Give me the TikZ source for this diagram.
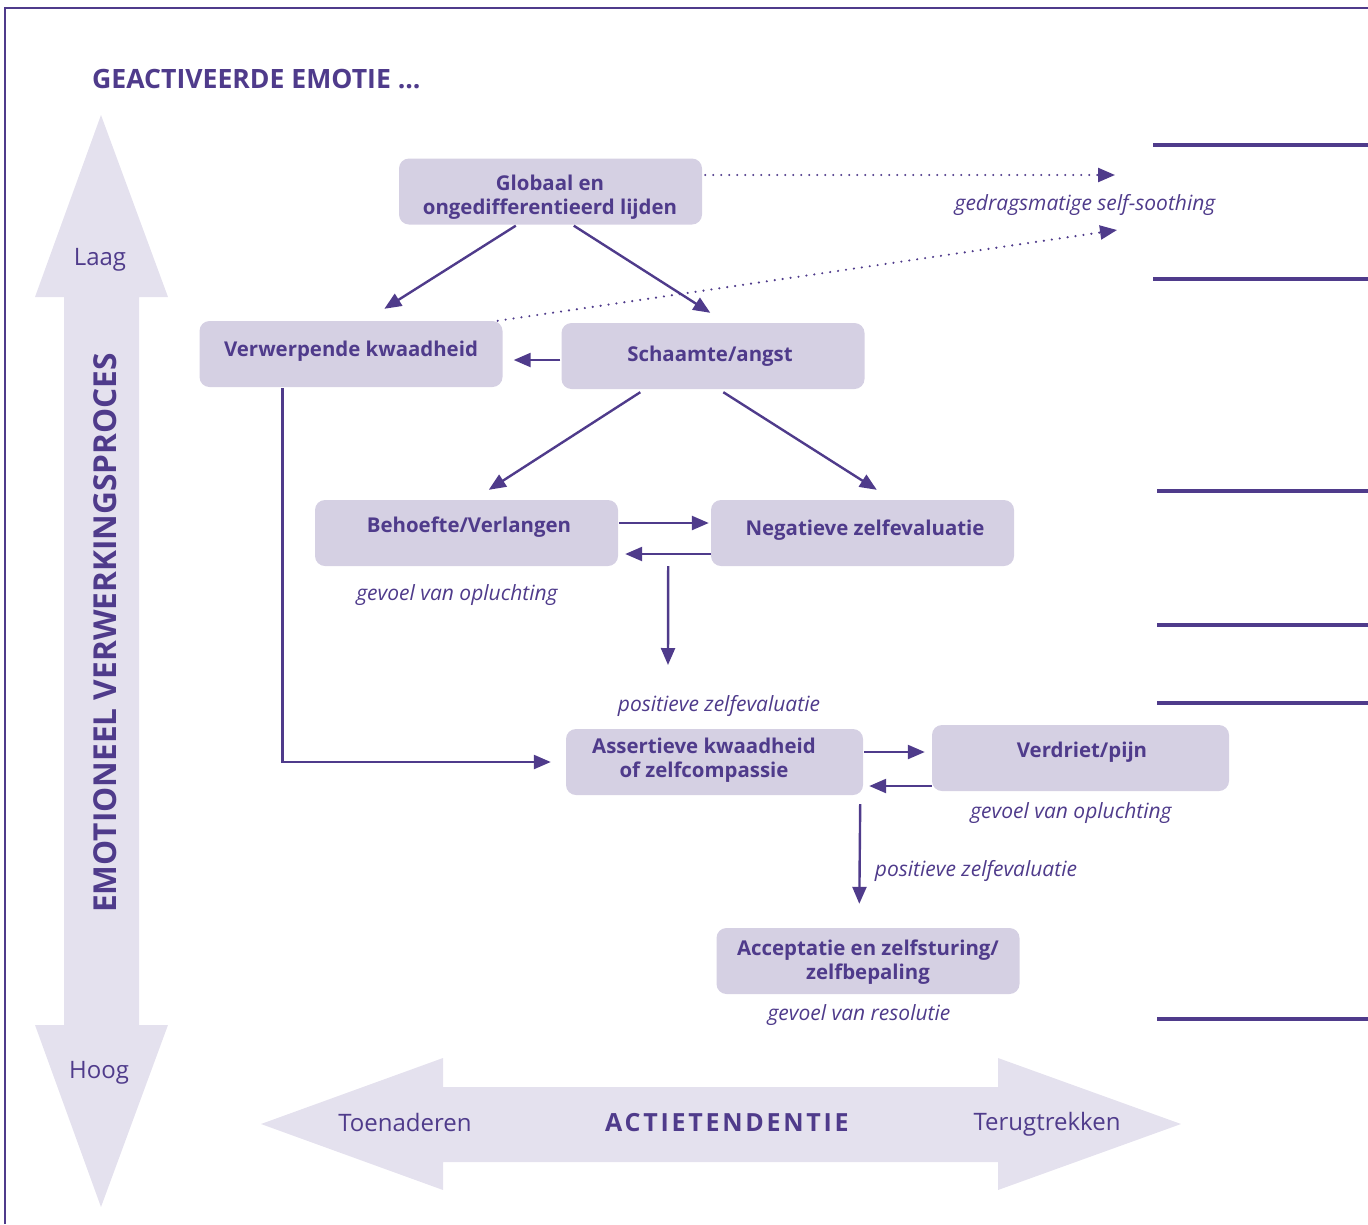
\documentclass[tikz,border=0pt]{standalone}
\usepackage{fontspec}
\setmainfont{Open Sans}
\usetikzlibrary{arrows.meta,calc}
\definecolor{pur}{HTML}{4F3B8B}
\definecolor{boxf}{HTML}{D5D0E3}
\definecolor{bigf}{HTML}{E4E1EE}
\tikzset{
  box/.style={fill=boxf, rounded corners=10pt, minimum width=303pt, minimum height=66pt, inner sep=0pt},
  btxt/.style={text=pur, font=\bfseries\fontsize{20.4}{24}\selectfont, align=center, inner sep=0pt, yshift=-3pt},
  lab/.style={text=pur, font=\itshape\fontsize{21}{24}\selectfont, inner sep=0pt, yshift=-3pt},
  light/.style={text=pur, font=\fontsize{24}{28}\selectfont, inner sep=0pt, yshift=-3pt},
  arr/.style={draw=pur, line width=2.4pt, -{Triangle[length=17pt,width=14pt]}},
  dotarr/.style={arr, line cap=round, line width=2.4pt, dash pattern=on 0pt off 8pt},
  rline/.style={draw=pur, line width=4pt},
}
\begin{document}
\begin{tikzpicture}[x=1pt,y=-1pt]
\useasboundingbox (0,0) rectangle (1368,1224);
% frame
\draw[pur, line width=1.3pt] (5,1224) -- (5,8) -- (1368,8);
% title
\node[text=pur, font=\bfseries\fontsize{26.6}{31}\selectfont, anchor=west, inner sep=0pt] (title) at (92,79) {GEACTIVEERDE EMOTIE ...};
% big arrows
\fill[bigf] (101,115) -- (168,297) -- (139,297) -- (139,1025) -- (168,1025) -- (101,1207) -- (35,1025) -- (64,1025) -- (64,297) -- (35,297) -- cycle;
\fill[bigf] (261,1124) -- (443,1058) -- (443,1087) -- (998,1087) -- (998,1058) -- (1181,1124) -- (998,1190) -- (998,1162) -- (443,1162) -- (443,1190) -- cycle;
\node[light] (laag) at (100,257) {Laag};
\node[light] (hoog) at (99,1070) {Hoog};
\node[text=pur, font=\bfseries\fontsize{31.6}{36}\selectfont, rotate=90, inner sep=0pt] (evp) at (105,633) {EMOTIONEEL VERWERKINGSPROCES};
\node[light, yshift=3pt] (toen) at (405,1122) {Toenaderen};
\node[text=pur, font=\bfseries\fontsize{25}{29}\selectfont\addfontfeatures{LetterSpace=11}, inner sep=0pt, yshift=-1pt] (act) at (727,1122) {ACTIETENDENTIE};
\node[light, yshift=1pt] (terug) at (1047,1122) {Terugtrekken};
% right lines
\draw[rline] (1153,145) -- (1368,145);
\draw[rline] (1153,279) -- (1368,279);
\draw[rline] (1157,491) -- (1368,491);
\draw[rline] (1157,625) -- (1368,625);
\draw[rline] (1157,703) -- (1368,703);
\draw[rline] (1157,1019) -- (1368,1019);
% boxes
\node[box] (glob) at (550.5,191.5) {};
\node[btxt] at (550,194) {Globaal en\\ongedifferentieerd lijden};
\node[box] (verw) at (351,354) {};
\node[btxt] at (351,348) {Verwerpende kwaadheid};
\node[box] (scha) at (713,356) {};
\node[btxt] at (710,353) {Schaamte/angst};
\node[box] (beh) at (466.5,533) {};
\node[btxt] at (469,524) {Behoefte/Verlangen};
\node[box] (neg) at (862.5,533) {};
\node[btxt] at (865,527) {Negatieve zelfevaluatie};
\node[box, minimum width=297pt] (ass) at (714.5,762) {};
\node[btxt] at (704,757) {Assertieve kwaadheid\\of zelfcompassie};
\node[box, minimum width=297pt] (verd) at (1080.5,758) {};
\node[btxt] at (1082,749) {Verdriet/pijn};
\node[box] (acc) at (868,961) {};
\node[btxt] at (868,959) {Acceptatie en zelfsturing/\\zelfbepaling};
% labels
\node[lab] (ss) at (1085,202) {gedragsmatige self-soothing};
\node[lab] (op1) at (457,592) {gevoel van opluchting};
\node[lab] (pz1) at (719,703) {positieve zelfevaluatie};
\node[lab] (op2) at (1071,810) {gevoel van opluchting};
\node[lab] (pz2) at (976,868) {positieve zelfevaluatie};
\node[lab] (res) at (859,1012) {gevoel van resolutie};
% free ends
\coordinate (e1) at (1115,175);
\coordinate (e2) at (1117,230);
\coordinate (e3) at (668,665);
% connectors
\draw[dotarr] ($(glob.east)+(3,-16.5)$) -- (e1);
\draw[dotarr] ($(verw.north east)+(-5,0)$) -- (e2);
\draw[arr] ($(glob.south west)+(117,1)$) -- ($(verw.north west)+(185,-12)$);
\draw[arr] ($(glob.south west)+(175,1)$) -- ($(scha.north west)+(149,-10)$);
\draw[arr] ($(scha.west)+(-1,4)$) -- ($(verw.east)+(11,6)$);
\draw[arr] ($(scha.south west)+(79,3)$) -- ($(beh.north west)+(174,-10)$);
\draw[arr] ($(scha.south west)+(162,3)$) -- ($(neg.north west)+(166,-10)$);
\draw[arr] ($(beh.east)+(1,-10)$) -- ($(neg.west)+(-2,-10)$);
\draw[arr] ($(neg.west)+(0,21)$) -- ($(beh.east)+(7,21)$);
\draw[arr] ($(beh.south east)+(50,0)$) -- (e3);
\draw[arr] ($(verw.south west)+(83,1)$) |- ($(ass.west)+(-15,0)$);
\draw[arr] ($(ass.east)+(1,-10)$) -- ($(verd.west)+(-7,-6)$);
\draw[arr] ($(verd.west)+(0,28)$) -- ($(ass.east)+(6,24)$);
\draw[arr] ($(ass.south east)+(-3,9)$) -- ($(acc.north west)+(143,-24)$);
\end{tikzpicture}
\end{document}
